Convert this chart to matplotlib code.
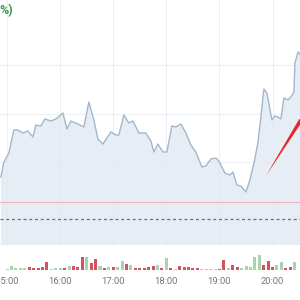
import matplotlib
matplotlib.use("Agg")
import matplotlib.pyplot as plt

# ---- data (minutes after 15:00, price) ----
price_minutes = [-7, -3.6, 2, 7.7, 12.2, 17.9, 23.5, 29.2, 32.5, 38.2, 42.7, 49.5, 55.1,
                 63.1, 67.6, 72.1, 80, 86.8, 92.4, 98.1, 102.6, 108.3, 117.3, 122.9,
                 126.3, 132, 137.6, 142.2, 148.9, 156.8, 162.5, 165.9, 170.4, 176.1,
                 180.6, 186.2, 190.7, 196.4, 202, 207.7, 213.3, 220.1, 224.6, 230.3,
                 235.9, 239.3, 246.1, 251.8, 255.2, 259.7, 264.2, 269.9, 274.4, 279,
                 283.4, 286.8, 290.2, 293.6, 299.2, 302.6, 306, 309.4, 312.8, 317.3,
                 320.7, 324.1, 325.3, 328.7, 330.9, 334.3]
price_values = [10.23, 10.38, 10.47, 10.70, 10.70, 10.67, 10.69, 10.63, 10.75, 10.74,
                10.81, 10.79, 10.81, 10.87, 10.71, 10.79, 10.76, 10.73, 10.98, 10.80,
                10.61, 10.56, 10.68, 10.65, 10.65, 10.85, 10.77, 10.79, 10.67, 10.67,
                10.59, 10.48, 10.56, 10.48, 10.48, 10.74, 10.73, 10.76, 10.67, 10.55,
                10.48, 10.33, 10.34, 10.41, 10.42, 10.39, 10.27, 10.25, 10.28, 10.15,
                10.14, 10.08, 10.20, 10.37, 10.57, 10.83, 11.11, 11.07, 10.80, 10.84,
                10.83, 10.81, 11.02, 11.00, 11.03, 11.08, 11.37, 11.48, 11.46, 11.40]

volume_minutes = [5 * k for k in range(66)]
volume_values = [2, 12, 7, 5, 5, 10, 6, 6, 8, 25, 2, 5, 6, 6, 13, 13, 10, 40, 38, 20,
                 32, 12, 7, 10, 8, 10, 28, 18, 16, 7, 7, 5, 10, 12, 14, 6, 35, 5, 2, 12,
                 8, 8, 6, 5, 2, 2, 2, 2, 2, 30, 5, 15, 10, 7, 12, 10, 40, 45, 15, 28,
                 8, 15, 25, 5, 8, 25]
volume_up = ['g', 'g', 'g', 'g', 'g', 'r', 'r', 'r', 'r', 'r', 'g', 'g', 'g', 'r', 'g',
             'r', 'r', 'r', 'g', 'r', 'r', 'g', 'r', 'g', 'r', 'g', 'g', 'r', 'g', 'r',
             'r', 'r', 'r', 'r', 'g', 'r', 'g', 'r', 'g', 'r', 'r', 'r', 'r', 'r', 'g',
             'g', 'g', 'g', 'r', 'r', 'g', 'r', 'r', 'g', 'g', 'g', 'g', 'g', 'r', 'r',
             'r', 'g', 'g', 'r', 'r', 'g']

hour_minutes = [0, 60, 120, 180, 240, 300]
hour_labels = ['15:00', '16:00', '17:00', '18:00', '19:00', '20:00']
grid_levels = [11.35, 10.865, 10.38, 9.895]
prev_close = 9.81
ref_level = 9.98
fill_floor = 9.55
arrow_start = (292.4, 10.24)
arrow_end = (332, 10.80)
change_text = '%)'

# ---- figure ----
fig = plt.figure(figsize=(3, 3), dpi=100)
fig.patch.set_facecolor('white')

ax = fig.add_axes([0, 0, 1, 1])
ax.set_xlim(-8, 331)
ax.set_ylim(9, 12)
ax.axis('off')

ax.fill_between(price_minutes, price_values, fill_floor, color='#e7edf5', lw=0, zorder=0)
for m in hour_minutes:
    ax.plot([m, m], [fill_floor, 12], color='#e3e8ef', lw=0.6, alpha=0.8, zorder=0.5)
for g in grid_levels:
    ax.axhline(g, color='#e3e8ef', lw=0.6, alpha=0.8, zorder=0.5)
ax.plot(price_minutes, price_values, color='#a3b7cb', lw=1.0, zorder=3)

ax.axhline(ref_level, color='#f0b3b8', lw=0.8, zorder=2)
ax.axhline(prev_close, color='#6f6f6f', lw=0.9, ls=(0, (2.4, 2.2)), zorder=2)

ax.annotate('', xy=arrow_start, xytext=arrow_end,
            arrowprops=dict(arrowstyle='wedge,tail_width=0.28,shrink_factor=0.5',
                            color='#e8262a', lw=0, shrinkA=0, shrinkB=0,
                            mutation_scale=10),
            annotation_clip=False, zorder=4)

fig.text(13 / 300, 1 - 11 / 300, change_text, ha='right', va='center',
         color='#3a9a4c', fontsize=9, fontweight='bold', family=['Roboto', 'DejaVu Sans'])

# volume axes
vax = fig.add_axes([0, 30 / 300, 1, 20 / 300])
vax.set_xlim(-8, 331)
vax.set_ylim(0, 60)
vax.patch.set_alpha(0)
colors = ['#d4535d' if c == 'r' else '#a3d6ad' for c in volume_up]
vax.bar(volume_minutes, volume_values, width=3.4, color=colors, lw=0)
for s in vax.spines.values():
    s.set_visible(False)
vax.set_yticks([])
vax.set_xticks(hour_minutes)
vax.set_xticklabels(hour_labels, fontsize=6.8, color='#777777', family=['Roboto', 'DejaVu Sans'])
vax.tick_params(axis='x', length=0, pad=5)

fig.savefig('out.png', dpi=100, facecolor='white')
